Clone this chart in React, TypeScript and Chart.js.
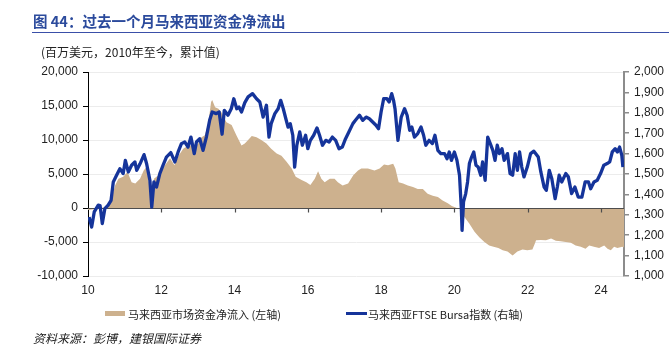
import React, { useEffect, useRef } from "react";
import { Chart, registerables } from "chart.js";

Chart.register(...registerables);

const TITLE = "图 44：过去一个月马来西亚资金净流出";
const SUBTITLE = "(百万美元，2010年至今，累计值)";
const FLOW_LABEL = "马来西亚市场资金净流入 (左轴)";
const INDEX_LABEL = "马来西亚FTSE Bursa指数 (右轴)";
const SOURCE = "资料来源：彭博，建银国际证券";

const X_MIN = 2010;
const X_MAX = 2024.63;
const X_TICKS = [2010, 2012, 2014, 2016, 2018, 2020, 2022, 2024];

// Cumulative net flow (USD mn), left axis
const flowYears = [
  2010.0, 2010.15, 2010.3, 2010.5, 2010.55, 2010.65, 2010.74, 2010.83, 2010.96, 2011.08,
  2011.19, 2011.29, 2011.42, 2011.52, 2011.59, 2011.65, 2011.72, 2011.74, 2011.77, 2011.8,
  2011.87, 2011.96, 2012.1, 2012.24, 2012.36, 2012.47, 2012.6, 2012.74, 2012.87, 2013.0,
  2013.1, 2013.19, 2013.28, 2013.36, 2013.39, 2013.47, 2013.56, 2013.65, 2013.78, 2013.92,
  2014.05, 2014.19, 2014.28, 2014.37, 2014.47, 2014.6, 2014.73, 2014.87, 2015.0, 2015.15,
  2015.28, 2015.42, 2015.56, 2015.67, 2015.83, 2015.96, 2016.07, 2016.19, 2016.28, 2016.37,
  2016.46, 2016.6, 2016.73, 2016.82, 2016.95, 2017.1, 2017.24, 2017.37, 2017.46, 2017.64,
  2017.82, 2017.96, 2018.08, 2018.19, 2018.33, 2018.39, 2018.48, 2018.6, 2018.73, 2018.87,
  2019.0, 2019.14, 2019.27, 2019.41, 2019.55, 2019.68, 2019.82, 2019.93, 2020.05, 2020.16,
  2020.27, 2020.41, 2020.55, 2020.68, 2020.82, 2020.95, 2021.07, 2021.2, 2021.32, 2021.45,
  2021.59, 2021.72, 2021.86, 2021.99, 2022.13, 2022.2, 2022.23, 2022.36, 2022.5, 2022.64,
  2022.77, 2022.9, 2023.04, 2023.18, 2023.31, 2023.45, 2023.58, 2023.68, 2023.81, 2023.95,
  2024.09, 2024.18, 2024.27, 2024.36, 2024.45, 2024.58, 2024.63,
];
const flowValues = [
  -300, -200, 0, 100, 200, 1600, 3300, 4300, 4600, 5300,
  3800, 3600, 4300, 5500, 6000, 4300, 1500, 0, 2500, 4300,
  4600, 5000, 6300, 7300, 6300, 7700, 8700, 9200, 9200, 9400,
  10400, 10700, 12400, 15600, 15900, 14800, 14600, 14000, 12600, 12200,
  10700, 9200, 9500, 10000, 10600, 10400, 10000, 9500, 8700, 8000,
  7700, 6800, 5800, 4600, 4100, 3800, 3400, 4300, 5400, 4300,
  3800, 4300, 4300, 3800, 3300, 3600, 4800, 5500, 5800, 5800,
  5500, 5800, 6400, 6300, 6500, 5800, 3800, 3600, 3300, 3100,
  2800, 2800, 2100, 1800, 1600, 1100, 700, 300, 50, -200,
  -1300, -2300, -3500, -4300, -5000, -5500, -5700, -5900, -6200, -6400,
  -7000, -6400, -6100, -6200, -6100, -5200, -4750, -4700, -4750, -4500,
  -4800, -4900, -5000, -5100, -5500, -5700, -6000, -5500, -5700, -5900,
  -5500, -6000, -6200, -5700, -5900, -5700, -5800,
];

// FTSE Bursa Malaysia KLCI index, right axis
const indexYears = [
  2010.03, 2010.1, 2010.17, 2010.28, 2010.33, 2010.39, 2010.46, 2010.55, 2010.63, 2010.69,
  2010.78, 2010.87, 2010.96, 2011.02, 2011.1, 2011.19, 2011.28, 2011.33, 2011.42, 2011.53,
  2011.6, 2011.69, 2011.74, 2011.8, 2011.87, 2011.96, 2012.05, 2012.14, 2012.26, 2012.37,
  2012.46, 2012.55, 2012.64, 2012.73, 2012.81, 2012.9, 2012.96, 2013.05, 2013.14, 2013.23,
  2013.32, 2013.39, 2013.5, 2013.58, 2013.66, 2013.72, 2013.82, 2013.91, 2013.98, 2014.06,
  2014.12, 2014.19, 2014.28, 2014.37, 2014.49, 2014.6, 2014.69, 2014.78, 2014.87, 2014.94,
  2015.0, 2015.1, 2015.19, 2015.26, 2015.33, 2015.4, 2015.46, 2015.52, 2015.59, 2015.64,
  2015.7, 2015.78, 2015.85, 2015.94, 2016.0, 2016.07, 2016.16, 2016.25, 2016.32, 2016.4,
  2016.49, 2016.58, 2016.67, 2016.76, 2016.85, 2016.94, 2017.03, 2017.12, 2017.23, 2017.3,
  2017.41, 2017.5, 2017.59, 2017.68, 2017.77, 2017.86, 2017.93, 2018.0, 2018.07, 2018.16,
  2018.22, 2018.29, 2018.34, 2018.38, 2018.46, 2018.55, 2018.64, 2018.71, 2018.78, 2018.84,
  2018.91, 2019.0, 2019.09, 2019.16, 2019.22, 2019.31, 2019.4, 2019.47, 2019.55, 2019.63,
  2019.73, 2019.8, 2019.86, 2019.92, 2020.0, 2020.07, 2020.14, 2020.19, 2020.21, 2020.25,
  2020.31, 2020.36, 2020.41, 2020.47, 2020.53, 2020.59, 2020.65, 2020.72, 2020.77, 2020.84,
  2020.91, 2020.98, 2021.05, 2021.11, 2021.17, 2021.23, 2021.3, 2021.36, 2021.45, 2021.52,
  2021.59, 2021.66, 2021.72, 2021.78, 2021.84, 2021.9, 2021.99, 2022.08, 2022.17, 2022.29,
  2022.36, 2022.45, 2022.51, 2022.59, 2022.66, 2022.75, 2022.81, 2022.86, 2022.93, 2023.04,
  2023.11, 2023.2, 2023.29, 2023.38, 2023.48, 2023.57, 2023.66, 2023.72, 2023.81, 2023.9,
  2023.99, 2024.08, 2024.17, 2024.24, 2024.31, 2024.39, 2024.45, 2024.51, 2024.57, 2024.6,
];
const indexValues = [
  1289, 1240, 1314, 1347, 1345, 1257, 1330, 1347, 1371, 1461,
  1494, 1526, 1502, 1567, 1510, 1543, 1559, 1518, 1550, 1595,
  1550, 1469, 1338, 1461, 1436, 1502, 1543, 1583, 1605, 1559,
  1608, 1649, 1657, 1632, 1681, 1600, 1657, 1673, 1616, 1681,
  1763, 1804, 1796, 1804, 1695, 1812, 1788, 1820, 1869, 1820,
  1828, 1804, 1850, 1878, 1894, 1869, 1853, 1779, 1837, 1681,
  1747, 1796, 1820, 1861, 1820, 1771, 1730, 1747, 1690, 1534,
  1641, 1706, 1641, 1690, 1624, 1665, 1690, 1726, 1690, 1641,
  1665, 1657, 1681, 1665, 1624, 1632, 1673, 1706, 1747, 1763,
  1788, 1763, 1779, 1771, 1755, 1739, 1722, 1804, 1869, 1869,
  1853, 1894, 1861, 1820, 1665, 1779, 1820, 1788, 1714, 1730,
  1681, 1698, 1730, 1690, 1641, 1665, 1649, 1690, 1616, 1600,
  1600, 1575, 1608, 1567, 1608, 1567, 1494, 1330, 1224, 1363,
  1404, 1461, 1551, 1583, 1608, 1543, 1534, 1494, 1559, 1469,
  1681, 1649, 1616, 1567, 1641, 1600, 1624, 1567, 1600, 1502,
  1494, 1600, 1518, 1608, 1534, 1486, 1534, 1600, 1612, 1583,
  1510, 1436, 1420, 1518, 1477, 1379, 1436, 1494, 1461, 1502,
  1486, 1404, 1436, 1387, 1387, 1461, 1461, 1428, 1461, 1469,
  1502, 1543, 1551, 1559, 1608, 1624, 1608, 1632, 1592, 1534,
];

const TAN = "#cdb18e";
const BLUE = "#15349a";
const CJK = '"Noto Sans CJK SC", "Noto Sans", sans-serif';
const NUM = '"Liberation Sans", Arial, sans-serif';

const zeroLinePlugin = {
  id: "zeroLine",
  afterDatasetDraw(chart: any, args: any) {
    if (args.index !== 0) return;
    const { ctx, chartArea, scales } = chart;
    const y0 = Math.round(scales.y.getPixelForValue(0)) + 0.5;
    ctx.save();
    ctx.strokeStyle = "#4d4d4d";
    ctx.lineWidth = 1.2;
    ctx.beginPath();
    ctx.moveTo(chartArea.left, y0);
    ctx.lineTo(chartArea.right, y0);
    X_TICKS.forEach((t) => {
      if (t === X_MIN) return;
      const x = Math.round(scales.x.getPixelForValue(t)) + 0.5;
      ctx.moveTo(x, y0);
      ctx.lineTo(x, y0 + 4);
    });
    ctx.stroke();
    ctx.restore();
  },
};

export default function App() {
  const canvasRef = useRef<HTMLCanvasElement | null>(null);

  useEffect(() => {
    if (!canvasRef.current) return;
    const flowData = flowYears.map((x, i) => ({ x, y: flowValues[i] }));
    const indexData = indexYears.map((x, i) => ({ x, y: indexValues[i] }));
    const chart = new Chart(canvasRef.current, {
      type: "line",
      data: {
        datasets: [
          {
            label: FLOW_LABEL,
            data: flowData,
            yAxisID: "y",
            fill: "origin",
            backgroundColor: TAN,
            borderWidth: 0,
            borderColor: "rgba(0,0,0,0)",
            pointRadius: 0,
            tension: 0,
            order: 2,
          },
          {
            label: INDEX_LABEL,
            data: indexData,
            yAxisID: "y1",
            fill: false,
            borderColor: BLUE,
            borderWidth: 3.3,
            pointRadius: 0,
            tension: 0,
            borderJoinStyle: "round",
            order: 1,
          },
        ],
      },
      options: {
        animation: false,
        responsive: false,
        maintainAspectRatio: false,
        devicePixelRatio: 1,
        layout: { padding: { top: 72, bottom: 54, left: 0, right: 0 } },
        plugins: {
          legend: { display: false },
          tooltip: { enabled: false },
          title: { display: false },
        },
        scales: {
          x: {
            type: "linear",
            min: X_MIN,
            max: X_MAX,
            afterBuildTicks: (s: any) => {
              s.ticks = X_TICKS.map((v) => ({ value: v }));
            },
            afterFit: (s: any) => {
              s.height = 24;
            },
            grid: { display: false, drawTicks: false },
            border: { display: false },
            ticks: {
              autoSkip: false,
              maxRotation: 0,
              padding: 7,
              color: "#222",
              font: { family: NUM, size: 12 },
              callback: (v: any) => String(v).slice(2),
            },
          },
          y: {
            position: "left",
            min: -10000,
            max: 20000,
            afterFit: (s: any) => {
              s.width = 88;
            },
            ticks: {
              stepSize: 5000,
              padding: 5,
              color: "#222",
              font: { family: NUM, size: 12 },
              callback: (v: any) => Number(v).toLocaleString("en-US"),
            },
            grid: {
              color: (c: any) => (c.tick && c.tick.value === 0 ? "#4d4d4d" : "#ececec"),
              lineWidth: 1,
              tickLength: 5,
              tickColor: "#000",
            },
            border: { display: true, color: "#000", width: 1 },
          },
          y1: {
            position: "right",
            min: 1000,
            max: 2000,
            afterFit: (s: any) => {
              s.width = 45;
            },
            ticks: {
              stepSize: 100,
              padding: 5,
              color: "#222",
              font: { family: NUM, size: 12 },
              callback: (v: any) => Number(v).toLocaleString("en-US"),
            },
            grid: {
              drawOnChartArea: false,
              tickLength: 5,
              tickColor: "#8c8c8c",
              lineWidth: 1.5,
            },
            border: { display: true, color: "#8c8c8c", width: 2 },
          },
        },
      },
      plugins: [zeroLinePlugin],
    } as any);
    return () => chart.destroy();
  }, []);

  return (
    <div
      style={{
        position: "absolute",
        left: 0,
        top: 0,
        width: 669,
        height: 354,
        background: "#fff",
        overflow: "hidden",
      }}
    >
      <canvas
        ref={canvasRef}
        width={669}
        height={354}
        style={{ position: "absolute", left: 0, top: 0, width: 669, height: 354 }}
      />
      <div
        style={{
          position: "absolute",
          left: 33,
          top: 12,
          fontFamily: CJK,
          fontWeight: 700,
          fontSize: 14.5,
          lineHeight: "18px",
          color: "#2b4a9c",
          whiteSpace: "nowrap",
        }}
      >
        {TITLE}
      </div>
      <div
        style={{
          position: "absolute",
          left: 32,
          right: 0,
          top: 32,
          height: 1,
          background: "#3a4fa8",
        }}
      />
      <div
        style={{
          position: "absolute",
          left: 41,
          top: 44,
          fontFamily: CJK,
          fontSize: 12,
          lineHeight: "16px",
          color: "#222",
          whiteSpace: "nowrap",
        }}
      >
        {SUBTITLE}
      </div>
      <div
        style={{
          position: "absolute",
          left: 105,
          top: 311,
          width: 20,
          height: 5,
          background: TAN,
        }}
      />
      <div
        style={{
          position: "absolute",
          left: 128,
          top: 306,
          fontFamily: CJK,
          fontSize: 11,
          lineHeight: "16px",
          color: "#222",
          whiteSpace: "nowrap",
        }}
      >
        {FLOW_LABEL}
      </div>
      <div
        style={{
          position: "absolute",
          left: 346,
          top: 312,
          width: 21,
          height: 2.5,
          background: BLUE,
        }}
      />
      <div
        style={{
          position: "absolute",
          left: 368,
          top: 306,
          fontFamily: CJK,
          fontSize: 11,
          lineHeight: "16px",
          color: "#222",
          whiteSpace: "nowrap",
        }}
      >
        {INDEX_LABEL}
      </div>
      <div
        style={{
          position: "absolute",
          left: 33,
          top: 330,
          fontFamily: CJK,
          fontStyle: "italic",
          fontSize: 12,
          lineHeight: "16px",
          color: "#222",
          whiteSpace: "nowrap",
        }}
      >
        {SOURCE}
      </div>
    </div>
  );
}
